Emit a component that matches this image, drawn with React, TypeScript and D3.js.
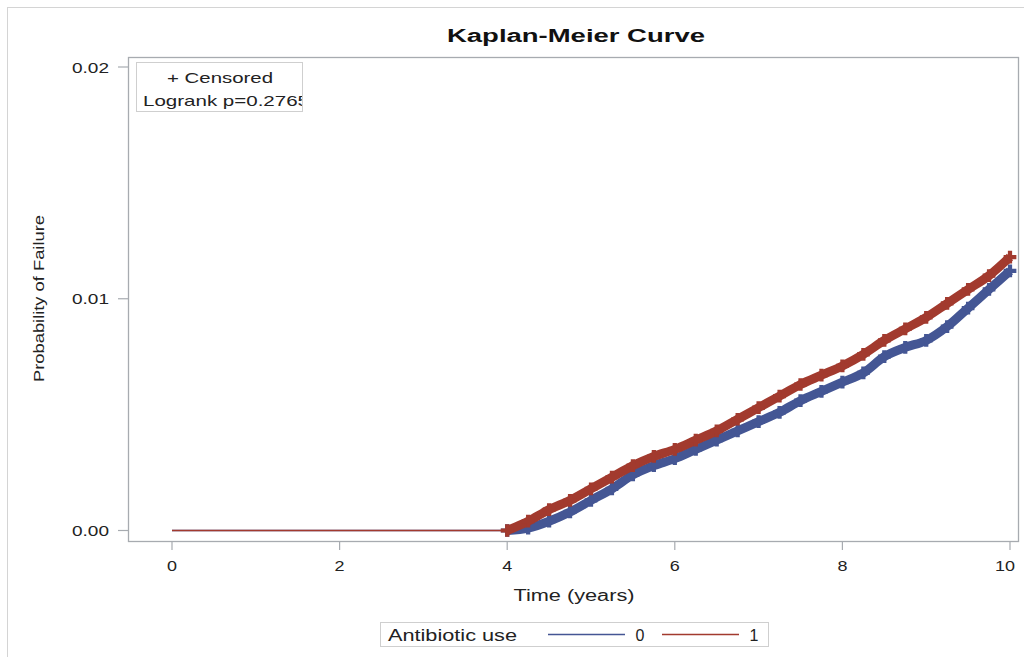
import * as d3 from "d3";

// Kaplan-Meier failure curves (time in years)
const TIMES = [0, 4, 4.25, 4.5, 4.75, 5, 5.25, 5.5, 5.75, 6, 6.25, 6.5, 6.75, 7, 7.25, 7.5, 7.75, 8, 8.25, 8.5, 8.75, 9, 9.25, 9.5, 9.75, 10];
const FAIL_0 = [0, 0, 0.0001, 0.0004, 0.0008, 0.0013, 0.0018, 0.0024, 0.0028, 0.0031, 0.0035, 0.0039, 0.0043, 0.0047, 0.0051, 0.0056, 0.006, 0.0064, 0.0068, 0.0075, 0.0079, 0.0082, 0.0088, 0.0096, 0.0104, 0.0112];
const FAIL_1 = [0, 0, 0.0004, 0.0009, 0.0013, 0.0018, 0.0023, 0.0028, 0.0032, 0.0035, 0.0039, 0.0043, 0.0048, 0.0053, 0.0058, 0.0063, 0.0067, 0.0071, 0.0076, 0.0082, 0.0087, 0.0092, 0.0098, 0.0104, 0.011, 0.0118];

const GROUPS = ["0", "1"];
const COLORS = ["#445694", "#A23A2E"];
const X_TICKS = [0, 2, 4, 6, 8, 10];
const Y_TICKS = [0, 0.01, 0.02];

const TITLE = "Kaplan-Meier Curve";
const X_LABEL = "Time (years)";
const Y_LABEL = "Probability of Failure";
const LEGEND_TITLE = "Antibiotic use";
const PVALUE = "Logrank p=0.2765";

const FONT = "'Liberation Sans', Arial, sans-serif";
const FRAME = { left: 128, top: 57, right: 1018, bottom: 541 };

type Pt = { t: number; p: number };

export default function App() {
  const x = d3.scaleLinear().domain([0, 10]).range([172, 1010]);
  const y = d3.scaleLinear().domain([0, 0.02]).range([530.5, 67]);

  const series = [FAIL_0, FAIL_1].map((vals) => TIMES.map((t, i) => ({ t, p: vals[i] })));

  const line = d3
    .line<Pt>()
    .x((d) => x(d.t))
    .y((d) => y(d.p));
  const band = d3
    .line<Pt>()
    .x((d) => x(d.t))
    .y((d) => y(d.p))
    .curve(d3.curveMonotoneX);

  const cross = d3.symbol(d3.symbolCross, 90);

  return (
    <svg
      width={1024}
      height={657}
      style={{ position: "absolute", left: 0, top: 0, background: "#fff" }}
      fontFamily={FONT}
    >
      <defs>
        <clipPath id="insetClip">
          <rect x={136} y={62} width={166} height={50} />
        </clipPath>
      </defs>

      {/* outer frame */}
      <rect x={7.5} y={7.5} width={1100} height={700} fill="none" stroke="#d4d4d4" />

      <text x={576} y={42} textAnchor="middle" fontSize={18} fontWeight="bold" fill="#111"
        textLength={258} lengthAdjust="spacingAndGlyphs">
        {TITLE}
      </text>

      {/* plot frame */}
      <rect
        x={FRAME.left + 0.5}
        y={FRAME.top + 0.5}
        width={FRAME.right - FRAME.left}
        height={FRAME.bottom - FRAME.top}
        fill="none"
        stroke="#a7abb0"
        strokeWidth={1.3}
      />

      {/* y axis */}
      {Y_TICKS.map((v) => (
        <g key={v}>
          <line x1={118} x2={FRAME.left} y1={y(v)} y2={y(v)} stroke="#a7abb0" strokeWidth={1.2} />
          <text x={109} y={y(v) + 5.5} textAnchor="end" fontSize={15} fill="#222"
            textLength={37} lengthAdjust="spacingAndGlyphs">
            {d3.format(".2f")(v)}
          </text>
        </g>
      ))}
      <text
        transform={`translate(43.5,298.5) rotate(-90)`}
        textAnchor="middle"
        fontSize={15.5}
        fill="#222"
        textLength={167}
        lengthAdjust="spacingAndGlyphs"
      >
        {Y_LABEL}
      </text>

      {/* x axis */}
      {X_TICKS.map((v) => (
        <g key={v}>
          <line x1={x(v)} x2={x(v)} y1={FRAME.bottom} y2={550} stroke="#a7abb0" strokeWidth={1.2} />
          <text x={v >= 10 ? x(v) - 5 : x(v)} y={571} textAnchor="middle" fontSize={15} fill="#222"
            textLength={v >= 10 ? 20 : 10} lengthAdjust="spacingAndGlyphs">
            {v}
          </text>
        </g>
      ))}
      <text x={574} y={601} textAnchor="middle" fontSize={16} fill="#222"
        textLength={121} lengthAdjust="spacingAndGlyphs">
        {X_LABEL}
      </text>

      {/* curves: thin segment before first event, thick band of censored marks after */}
      {series.map((s, gi) => {
        const events = s.filter((d) => d.t >= 4);
        return (
          <g key={GROUPS[gi]}>
            <path d={line(s) ?? ""} fill="none" stroke={COLORS[gi]} strokeWidth={1.5} />
            <path
              d={band(events) ?? ""}
              fill="none"
              stroke={COLORS[gi]}
              strokeWidth={9}
              strokeLinejoin="round"
            />
            {events.map((d, i) => (
              <path
                key={i}
                d={cross() ?? ""}
                transform={`translate(${x(d.t)},${y(d.p)})`}
                fill={COLORS[gi]}
              />
            ))}
          </g>
        );
      })}

      {/* inset */}
      <rect x={136.5} y={62.5} width={166} height={49} fill="#fff" stroke="#cfcfcf" />
      <text x={220} y={83} textAnchor="middle" fontSize={15} fill="#222"
        textLength={106} lengthAdjust="spacingAndGlyphs">
        + Censored
      </text>
      <g clipPath="url(#insetClip)">
        <text x={143} y={106} fontSize={15} fill="#222" textLength={166} lengthAdjust="spacingAndGlyphs">
          {PVALUE}
        </text>
      </g>

      {/* bottom legend */}
      <rect x={380.5} y={622.5} width={388} height={24} fill="#fff" stroke="#cfcfcf" />
      <text x={388} y={641} fontSize={16} fill="#222" textLength={129} lengthAdjust="spacingAndGlyphs">
        {LEGEND_TITLE}
      </text>
      {GROUPS.map((g, i) => {
        const x0 = 548 + i * 114;
        return (
          <g key={g}>
            <line x1={x0} x2={x0 + 77} y1={634.5} y2={634.5} stroke={COLORS[i]} strokeWidth={1.5} />
            <text x={x0 + 92} y={641} textAnchor="middle" fontSize={16} fill="#222">
              {g}
            </text>
          </g>
        );
      })}
    </svg>
  );
}
